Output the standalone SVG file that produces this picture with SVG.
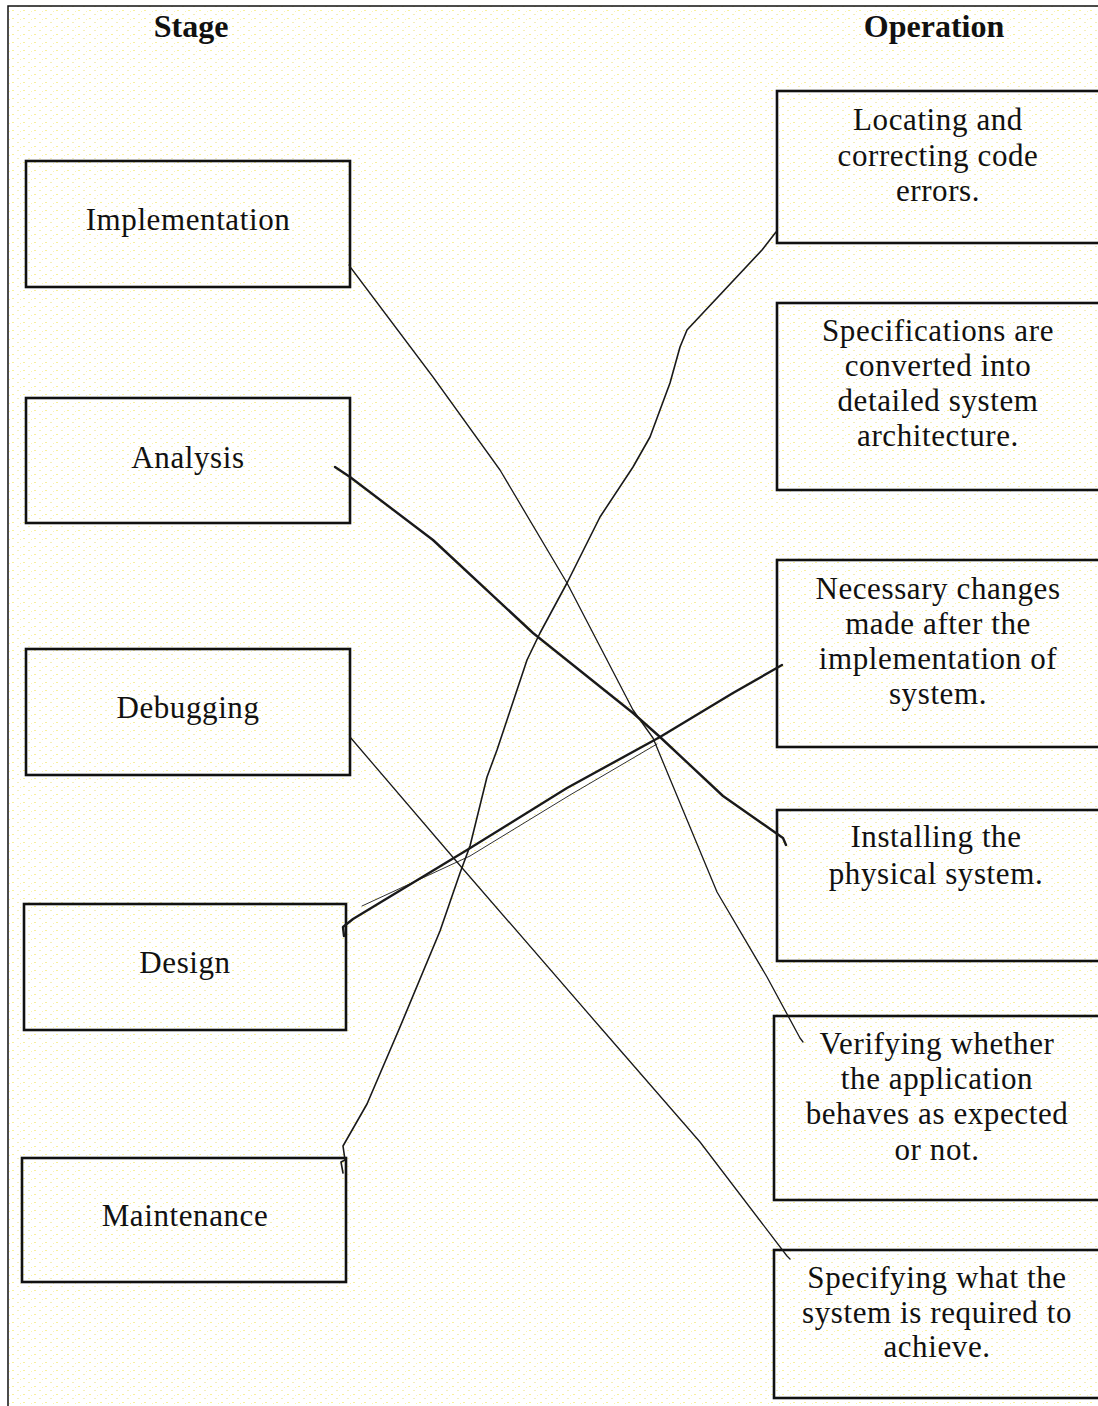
<svg xmlns="http://www.w3.org/2000/svg" width="1098" height="1406" viewBox="0 0 1098 1406">
<defs>
<pattern id="spk" width="11" height="8" patternUnits="userSpaceOnUse">
<rect x="1" y="2" width="2" height="1" fill="#f8f09a"/>
<rect x="6" y="6" width="2" height="1" fill="#f4eeb8"/>
<rect x="9" y="3" width="1" height="1" fill="#faf4b0"/>
</pattern>
<style>
.box{fill:none;stroke:#111;stroke-width:2.6}
.lbl{font-family:"Liberation Serif","Times New Roman",serif;font-size:31px;letter-spacing:0.6px;fill:#111;text-anchor:middle}
.hdr{font-family:"Liberation Serif","Times New Roman",serif;font-size:32px;font-weight:bold;fill:#111;text-anchor:middle}
.ln{fill:none;stroke:#1a1a1a;stroke-linejoin:round;stroke-linecap:round}
</style>
</defs>
<rect x="0" y="0" width="1098" height="1406" fill="#ffffff"/>
<rect x="8" y="6" width="1090" height="1400" fill="url(#spk)"/>
<path d="M8,1406 L8,6 L1098,6" fill="none" stroke="#111" stroke-width="1.5"/>

<text class="hdr" x="191" y="37">Stage</text>
<text class="hdr" x="934" y="37">Operation</text>

<g id="implementation"><rect class="box" x="26" y="161" width="324" height="126"/><text class="lbl" x="188" y="230">Implementation</text></g>
<g id="analysis"><rect class="box" x="26" y="398" width="324" height="125"/><text class="lbl" x="188" y="468">Analysis</text></g>
<g id="debugging"><rect class="box" x="26" y="649" width="324" height="126"/><text class="lbl" x="188" y="718">Debugging</text></g>
<g id="design"><rect class="box" x="24" y="904" width="322" height="126"/><text class="lbl" x="185" y="973">Design</text></g>
<g id="maintenance"><rect class="box" x="22" y="1158" width="324" height="124"/><text class="lbl" x="185" y="1226">Maintenance</text></g>

<g id="locating"><rect class="box" x="777" y="91" width="323" height="152"/>
<text class="lbl" x="938" y="130">Locating and</text><text class="lbl" x="938" y="166">correcting code</text><text class="lbl" x="938" y="201">errors.</text></g>
<g id="specifications"><rect class="box" x="777" y="303" width="323" height="187"/>
<text class="lbl" x="938" y="341">Specifications are</text><text class="lbl" x="938" y="376">converted into</text><text class="lbl" x="938" y="411">detailed system</text><text class="lbl" x="938" y="446">architecture.</text></g>
<g id="changes"><rect class="box" x="777" y="560" width="323" height="187"/>
<text class="lbl" x="938" y="599">Necessary changes</text><text class="lbl" x="938" y="634">made after the</text><text class="lbl" x="938" y="669">implementation of</text><text class="lbl" x="938" y="704">system.</text></g>
<g id="installing"><rect class="box" x="777" y="810" width="323" height="151"/>
<text class="lbl" x="936" y="847">Installing the</text><text class="lbl" x="936" y="884">physical system.</text></g>
<g id="verifying"><rect class="box" x="774" y="1016" width="326" height="184"/>
<text class="lbl" x="937" y="1054">Verifying whether</text><text class="lbl" x="937" y="1089">the application</text><text class="lbl" x="937" y="1124">behaves as expected</text><text class="lbl" x="937" y="1160">or not.</text></g>
<g id="specifying"><rect class="box" x="774" y="1250" width="326" height="148"/>
<text class="lbl" x="937" y="1288">Specifying what the</text><text class="lbl" x="937" y="1323">system is required to</text><text class="lbl" x="937" y="1357">achieve.</text></g>

<g id="connectors">
<path class="ln" stroke-width="1.3" d="M349,265 L351,268 L433,377 L500,470 L567,583 L633,710 L653,738 L717,892 L767,977 L800,1038 L803,1042"/>
<path class="ln" stroke-width="2.4" d="M335,467 L350,477 L433,540 L533,633 L633,713 L660,737 L723,796 L783,838 L786,845"/>
<path class="ln" stroke-width="1.3" d="M350,737 L457,862 L600,1027 L700,1142 L787,1256 L790,1259"/>
<path class="ln" stroke-width="2.4" d="M344,936 L343,927 L353,919 L467,850 L567,788 L660,737 L733,693 L782,665"/>
<path class="ln" stroke-width="0.9" stroke="#666" d="M362,906 L470,856 L570,795 L657,744"/>
<path class="ln" stroke-width="1.6" d="M343,1173 L341,1162 L345,1160 L343,1146 L367,1104 L400,1027 L440,931 L460,873 L470,846 L487,777 L497,750 L527,660 L540,633 L567,583 L600,517 L633,467 L650,437 L670,383 L680,347 L687,330 L762,250 L776,232"/>
</g>
</svg>
